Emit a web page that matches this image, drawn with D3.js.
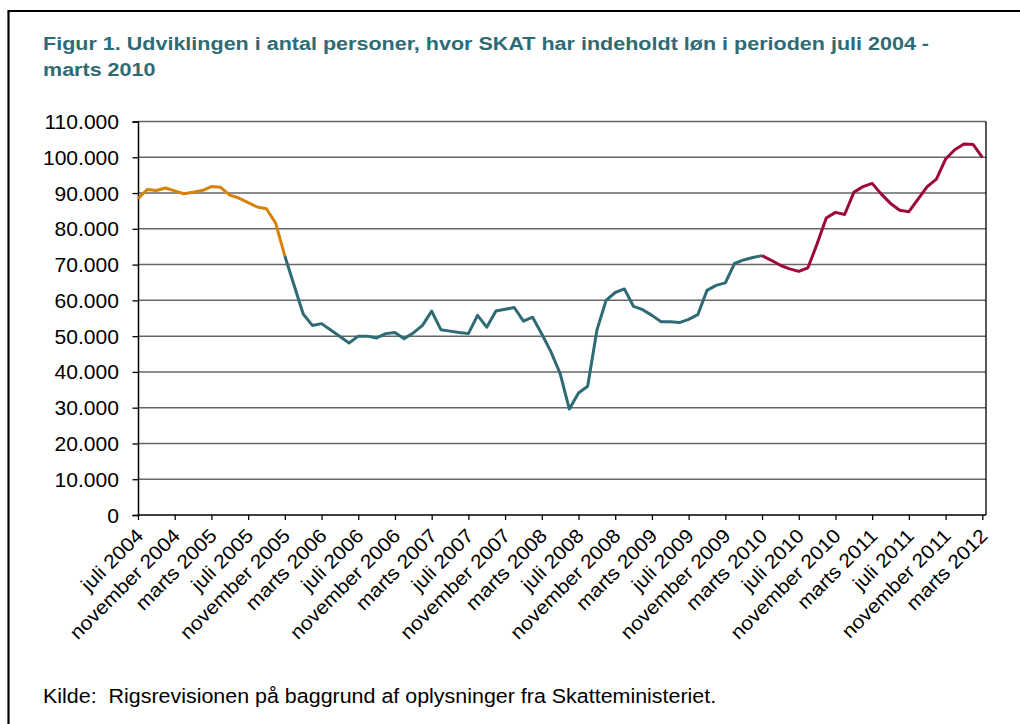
<!DOCTYPE html>
<html>
<head>
<meta charset="utf-8">
<script src="https://cdn.jsdelivr.net/npm/d3@7"></script>
<style>
  body { margin: 0; background: #fff; }
  text { font-family: Arial, "Liberation Sans", sans-serif; }
  .title { font-weight: bold; fill: #2e6b74; font-size: 17.8px; }
  .tick-label { font-size: 19.5px; fill: #000; }
  .source { font-size: 19.5px; fill: #000; white-space: pre; }
</style>
</head>
<body>
<div id="wrapper"></div>
<script>
// monthly number of persons, juli 2004 .. marts 2012
const personValues = [
  88400, 91000, 90700, 91400, 90600, 89800, 90200, 90700, 91800, 91600,
  89400, 88600, 87300, 86100, 85600, 81600, 72400, 64300, 56200, 53000,
  53500, 51700, 49900, 48100, 50000, 50000, 49500, 50700, 51000, 49300,
  50900, 53000, 57000, 51800, 51400, 51000, 50700, 55800, 52500, 57000,
  57500, 58000, 54200, 55300, 50600, 45600, 39500, 29600, 34100, 36000,
  51600, 60000, 62200, 63200, 58300, 57400, 55800, 54000, 54000, 53800,
  54700, 56000, 62800, 64200, 64900, 70300, 71300, 72000, 72500, 71200,
  69800, 68800, 68100, 69100, 75800, 83000, 84600, 84000, 90200, 91800,
  92700, 89700, 87100, 85200, 84800, 88300, 91800, 93900, 99500, 102100,
  103700, 103600, 100000
]

const xTickLabels = [
  "juli 2004", "november 2004", "marts 2005", "juli 2005", "november 2005",
  "marts 2006", "juli 2006", "november 2006", "marts 2007", "juli 2007",
  "november 2007", "marts 2008", "juli 2008", "november 2008", "marts 2009",
  "juli 2009", "november 2009", "marts 2010", "juli 2010", "november 2010",
  "marts 2011", "juli 2011", "november 2011", "marts 2012"
]
const yTickValues = [0, 10000, 20000, 30000, 40000, 50000, 60000, 70000, 80000, 90000, 100000, 110000]

// periods: index where each colour ends
const periodBreaks = [16, 68]
const periodColors = ["#d8820c", "#2e6b74", "#9e0838"]

const titleLines = [
  "Figur 1. Udviklingen i antal personer, hvor SKAT har indeholdt løn i perioden juli 2004 -",
  "marts 2010"
]
const sourceText = "Kilde:  Rigsrevisionen på baggrund af oplysninger fra Skatteministeriet."

const dimensions = {
  width: 1020,
  height: 724,
  plotLeft: 138,
  plotRight: 986,
  plotTop: 121.5,
  plotBottom: 515
}
// the original type is set a little wider than Arial
const titleStretch = 1.21
const textStretch = 1.08
const sourceStretch = 1.1

const svg = d3.select("#wrapper")
  .append("svg")
  .attr("width", dimensions.width)
  .attr("height", dimensions.height)

// outer frame (top + left visible)
svg.append("path")
  .attr("d", `M8.5,${dimensions.height + 5} V11 H${dimensions.width + 5}`)
  .attr("fill", "none")
  .attr("stroke", "#000")
  .attr("stroke-width", 2.2)

svg.selectAll(".title")
  .data(titleLines)
  .join("text")
  .attr("class", "title")
  .attr("transform", (d, i) => `translate(43,${50 + i * 26}) scale(${titleStretch},1)`)
  .text(d => d)

const xScale = d3.scaleLinear()
  .domain([0, 92])
  .range([dimensions.plotLeft, 982.3])

const yScale = d3.scaleLinear()
  .domain([0, 110000])
  .range([dimensions.plotBottom, dimensions.plotTop])

// gridlines
svg.append("g")
  .selectAll("line")
  .data(yTickValues.filter(d => d > 0))
  .join("line")
  .attr("x1", dimensions.plotLeft)
  .attr("x2", dimensions.plotRight)
  .attr("y1", d => yScale(d))
  .attr("y2", d => yScale(d))
  .attr("stroke", "#666")
  .attr("stroke-width", 1.5)

// plot frame right side
svg.append("line")
  .attr("x1", dimensions.plotRight)
  .attr("x2", dimensions.plotRight)
  .attr("y1", dimensions.plotTop)
  .attr("y2", dimensions.plotBottom)
  .attr("stroke", "#000")
  .attr("stroke-width", 1.3)

// y axis
const formatThousands = d3.formatLocale({ decimal: ",", thousands: ".", grouping: [3], currency: ["", " kr."] }).format(",")
const yAxis = d3.axisLeft(yScale)
  .tickValues(yTickValues)
  .tickSize(5.5)
  .tickPadding(0)
  .tickFormat(formatThousands)

const yAxisGroup = svg.append("g")
  .attr("transform", `translate(${dimensions.plotLeft},0)`)
  .call(yAxis)
yAxisGroup.select(".domain").attr("stroke", "#000").attr("stroke-width", 1.5)
yAxisGroup.selectAll(".tick line").attr("stroke", "#000").attr("stroke-width", 1.3)
yAxisGroup.selectAll(".tick text")
  .attr("class", "tick-label")
  .attr("font-family", null)
  .attr("font-size", null)
  .attr("x", null)
  .attr("dy", "0.36em")
  .attr("transform", `translate(-19,0) scale(${textStretch},1)`)

// x axis
const xTickMonths = xTickLabels.map((d, i) => i * 4)
const xAxis = d3.axisBottom(xScale)
  .tickValues(xTickMonths)
  .tickSize(5)
  .tickSizeOuter(0)
  .tickFormat((d, i) => xTickLabels[i])

const xAxisGroup = svg.append("g")
  .attr("transform", `translate(0,${dimensions.plotBottom})`)
  .call(xAxis)
xAxisGroup.select(".domain")
  .attr("d", `M${dimensions.plotLeft},0H${dimensions.plotRight}`)
  .attr("stroke", "#000")
  .attr("stroke-width", 1.5)
xAxisGroup.selectAll(".tick line").attr("stroke", "#000").attr("stroke-width", 1.3)
xAxisGroup.selectAll(".tick text")
  .attr("class", "tick-label")
  .attr("font-family", null)
  .attr("font-size", null)
  .attr("y", null)
  .attr("dy", null)
  .attr("text-anchor", "end")
  .attr("transform", `translate(6,22) rotate(-45) scale(${textStretch},1)`)

// line, split into three coloured periods
const lineGenerator = d3.line()
  .x(d => xScale(d.month))
  .y(d => yScale(d.value))

const points = personValues.map((value, month) => ({ month, value }))
const segmentBounds = [0, ...periodBreaks, points.length - 1]
const segments = periodColors.map((color, i) => ({
  color,
  points: points.slice(segmentBounds[i], segmentBounds[i + 1] + 1)
}))

svg.append("g")
  .selectAll("path")
  .data(segments)
  .join("path")
  .attr("d", d => lineGenerator(d.points))
  .attr("fill", "none")
  .attr("stroke", d => d.color)
  .attr("stroke-width", 3)
  .attr("stroke-linejoin", "round")

svg.append("text")
  .attr("class", "source")
  .attr("xml:space", "preserve")
  .attr("transform", `translate(43,703) scale(${sourceStretch},1)`)
  .text(sourceText)
</script>
</body>
</html>
